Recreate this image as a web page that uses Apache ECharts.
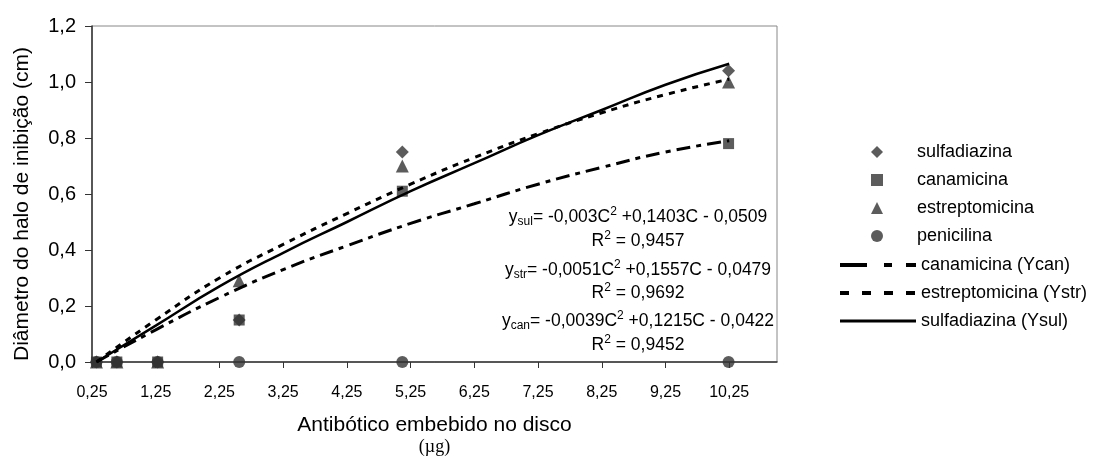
<!DOCTYPE html>
<html>
<head>
<meta charset="utf-8">
<script src="https://cdn.jsdelivr.net/npm/echarts@6/dist/echarts.min.js"></script>
<style>
html,body{margin:0;padding:0;background:#fff;}
#chart{width:1093px;height:461px;}
</style>
</head>
<body>
<div id="chart"></div>
<script>
// ---- data ----
const concentrations = [0.32, 0.64, 1.28, 2.56, 5.12, 10.24];
const sulfadiazina   = [0, 0, 0, 0.15, 0.75, 1.04];
const canamicina     = [0, 0, 0, 0.15, 0.61, 0.78];
const estreptomicina = [0, 0, 0, 0.29, 0.70, 1.00];
const penicilina     = [0, 0, 0, 0, 0, 0];

const curveX   = [0.32, 1.25, 2.25, 3.25, 4.25, 5.25, 6.25, 7.25, 8.25, 9.25, 10.25];
const curveCan = [0.00, 0.115, 0.23, 0.33, 0.415, 0.495, 0.565, 0.635, 0.695, 0.75, 0.79];
const curveStr = [0.00, 0.15, 0.30, 0.42, 0.53, 0.635, 0.73, 0.815, 0.89, 0.955, 1.01];
const curveSul = [0.00, 0.13, 0.27, 0.39, 0.50, 0.61, 0.71, 0.81, 0.90, 0.99, 1.065];

const scatterNames = ['sulfadiazina', 'canamicina', 'estreptomicina', 'penicilina'];
const lineNames = ['canamicina (Ycan)', 'estreptomicina (Ystr)', 'sulfadiazina (Ysul)'];

const xTitle = 'Antibótico embebido no disco';
const xUnit = '(µg)';
const yTitle = 'Diâmetro do halo de inibição (cm)';

const equations = [
  ['y', 'sul', '= -0,003C', '2', ' +0,1403C - 0,0509'],
  ['R', '', '', '2', ' = 0,9457'],
  ['y', 'str', '= -0,0051C', '2', ' +0,1557C - 0,0479'],
  ['R', '', '', '2', ' = 0,9692'],
  ['y', 'can', '= -0,0039C', '2', ' +0,1215C - 0,0422'],
  ['R', '', '', '2', ' = 0,9452']
];

// ---- helpers ----
const pairs = (xs, ys) => xs.map((x, i) => [x, ys[i]]);
const FONT = '"Liberation Sans", Arial, sans-serif';

function eqText(e) {
  let s = '{m|' + e[0] + '}';
  if (e[1]) s += '{sub|' + e[1] + '}';
  if (e[2]) s += '{m|' + e[2] + '}';
  s += '{sup|' + e[3] + '}';
  s += '{m|' + e[4] + '}';
  return s;
}
const eqRich = {
  m: {fontSize: 17.5, fontFamily: FONT, fill: '#000', lineHeight: 22, verticalAlign: 'middle'},
  sub: {fontSize: 12, fontFamily: FONT, fill: '#000', lineHeight: 11, verticalAlign: 'bottom'},
  sup: {fontSize: 12, fontFamily: FONT, fill: '#000', lineHeight: 11, verticalAlign: 'top'}
};
const eqY = [217, 241, 270, 293, 321, 345];

const chart = echarts.init(document.getElementById('chart'), null, {renderer: 'canvas'});

const markerColor = '#333333';
const lineDash = {
  can: {plot: [14, 6, 5, 6], legend: [27, 17, 8, 14]},
  str: {plot: [6, 6], legend: [9, 13]}
};

const option = {
  animation: false,
  backgroundColor: '#fff',
  grid: {left: 92, right: 316, top: 26, bottom: 95, show: true, borderColor: '#888', borderWidth: 1},
  legend: [
    {
      orient: 'vertical',
      left: 871,
      top: 143,
      padding: 0,
      itemWidth: 12,
      itemHeight: 12,
      itemGap: 10,
      textStyle: {fontSize: 18, fontFamily: FONT, color: '#000', lineHeight: 18, padding: [0, 0, 0, 29]},
      data: scatterNames
    },
    {
      orient: 'vertical',
      left: 838,
      top: 256,
      padding: 0,
      itemWidth: 76,
      itemHeight: 12,
      itemGap: 10,
      textStyle: {fontSize: 18, fontFamily: FONT, color: '#000', lineHeight: 18},
      data: [
        {name: lineNames[0], itemStyle: {opacity: 0}, lineStyle: {type: lineDash.can.legend, width: 4}},
        {name: lineNames[1], itemStyle: {opacity: 0}, lineStyle: {type: lineDash.str.legend, width: 4}},
        {name: lineNames[2], itemStyle: {opacity: 0}, lineStyle: {type: 'solid', width: 3}}
      ]
    }
  ],
  xAxis: {
    type: 'value',
    min: 0.25,
    max: 11,
    interval: 1,
    axisLine: {lineStyle: {color: '#333', width: 1.5}},
    axisTick: {show: true, length: 6, lineStyle: {color: '#333'}},
    splitLine: {show: false},
    axisLabel: {
      fontSize: 16, fontFamily: FONT, color: '#000', margin: 23,
      showMaxLabel: false,
      formatter: v => (Math.abs(v - 11) < 1e-6 ? '' : v.toFixed(2).replace('.', ','))
    },
    name: '{a|' + xTitle + '}\n{b|' + xUnit + '}',
    nameLocation: 'middle',
    nameGap: 52,
    nameTextStyle: {
      rich: {
        a: {fontSize: 21, fontFamily: FONT, color: '#000', lineHeight: 22},
        b: {fontSize: 18, fontFamily: '"Liberation Serif", "Times New Roman", serif', color: '#000', lineHeight: 22}
      }
    }
  },
  yAxis: {
    type: 'value',
    min: 0,
    max: 1.2,
    interval: 0.2,
    axisLine: {show: true, lineStyle: {color: '#333', width: 1.5}},
    axisTick: {show: true, length: 7, lineStyle: {color: '#333'}},
    splitLine: {show: false},
    axisLabel: {
      fontSize: 20, fontFamily: FONT, color: '#000', margin: 16,
      formatter: v => v.toFixed(1).replace('.', ',')
    }
  },
  series: [
    {name: scatterNames[0], type: 'scatter', symbol: 'diamond', symbolSize: 13, z: 3,
      itemStyle: {color: markerColor}, data: pairs(concentrations, sulfadiazina)},
    {name: scatterNames[1], type: 'scatter', symbol: 'rect', symbolSize: 11, z: 3,
      itemStyle: {color: markerColor}, data: pairs(concentrations, canamicina)},
    {name: scatterNames[2], type: 'scatter', symbol: 'triangle', symbolSize: 13, z: 3,
      itemStyle: {color: markerColor}, data: pairs(concentrations, estreptomicina)},
    {name: scatterNames[3], type: 'scatter', symbol: 'circle', symbolSize: 12, z: 2,
      itemStyle: {color: markerColor}, data: pairs(concentrations, penicilina)},
    {name: lineNames[0], type: 'line', smooth: true, symbol: 'none', z: 4,
      lineStyle: {color: '#000', width: 3, type: lineDash.can.plot}, itemStyle: {color: '#000'},
      data: pairs(curveX, curveCan)},
    {name: lineNames[1], type: 'line', smooth: true, symbol: 'none', z: 4,
      lineStyle: {color: '#000', width: 3, type: lineDash.str.plot}, itemStyle: {color: '#000'},
      data: pairs(curveX, curveStr)},
    {name: lineNames[2], type: 'line', smooth: true, symbol: 'none', z: 4,
      lineStyle: {color: '#000', width: 2.5, type: 'solid'}, itemStyle: {color: '#000'},
      data: pairs(curveX, curveSul)}
  ],
  graphic: equations.map((e, i) => ({
    type: 'text',
    x: 638,
    y: eqY[i],
    z: 10,
    style: {
      text: eqText(e),
      rich: eqRich,
      align: 'center',
      verticalAlign: 'middle'
    }
  })).concat([{
    type: 'text',
    x: 22,
    y: 204,
    rotation: Math.PI / 2,
    z: 10,
    style: {
      text: yTitle,
      font: '21px ' + FONT,
      fill: '#000',
      align: 'center',
      verticalAlign: 'middle'
    }
  }])
};

chart.setOption(option);
</script>
</body>
</html>
